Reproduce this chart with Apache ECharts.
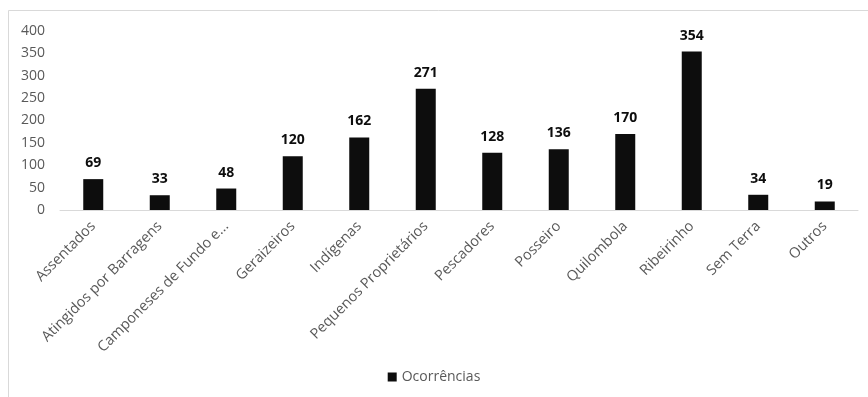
<!DOCTYPE html>
<html>
<head>
<meta charset="utf-8">
<script src="https://cdn.jsdelivr.net/npm/echarts@6/dist/echarts.min.js"></script>
<style>
  html, body { margin: 0; padding: 0; background: #fff; }
  #chart { width: 868px; height: 397px; }
</style>
</head>
<body>
<div id="chart"></div>
<script>
// Occurrences per affected group
const categories = [
  'Assentados', 'Atingidos por Barragens', 'Camponeses de Fundo e...', 'Geraizeiros',
  'Indígenas', 'Pequenos Proprietários', 'Pescadores', 'Posseiro',
  'Quilombola', 'Ribeirinho', 'Sem Terra', 'Outros'
];
const ocorrencias = [69, 33, 48, 120, 162, 271, 128, 136, 170, 354, 34, 19];
const seriesName = 'Ocorrências';

const FONT = '"Open Sans", "Liberation Sans", sans-serif';
const chart = echarts.init(document.getElementById('chart'), null, { renderer: 'canvas' });

chart.setOption({
  animation: false,
  backgroundColor: '#fff',
  graphic: [{
    type: 'rect',
    shape: { x: 8.5, y: 10.5, width: 900, height: 420 },
    style: { fill: 'none', stroke: '#d9d9d9', lineWidth: 1 },
    silent: true
  }],
  grid: { left: 60, right: 10, top: 31, bottom: 187, containLabel: false },
  legend: {
    bottom: 8,
    left: 'center',
    itemWidth: 9,
    itemHeight: 9,
    itemGap: 4,
    icon: 'rect',
    textStyle: { color: '#595959', fontSize: 14, fontFamily: FONT },
    data: [seriesName]
  },
  xAxis: {
    type: 'category',
    data: categories,
    axisLine: { show: true, lineStyle: { color: '#d9d9d9', width: 1 } },
    axisTick: { show: false },
    axisLabel: {
      interval: 0,
      rotate: 45,
      color: '#595959',
      fontSize: 14.5,
      fontFamily: FONT,
      margin: 14
    }
  },
  yAxis: {
    type: 'value',
    min: 0,
    max: 400,
    interval: 50,
    splitLine: { show: false },
    axisLine: { show: false },
    axisTick: { show: false },
    axisLabel: { color: '#595959', fontSize: 14, fontFamily: FONT, margin: 15 }
  },
  series: [{
    name: seriesName,
    type: 'bar',
    data: ocorrencias,
    barWidth: 20,
    itemStyle: { color: '#0d0d0d' },
    label: {
      show: true,
      position: 'top',
      distance: 9,
      color: '#0d0d0d',
      fontSize: 14,
      fontWeight: 'bold',
      fontFamily: FONT
    }
  }]
});
</script>
</body>
</html>
